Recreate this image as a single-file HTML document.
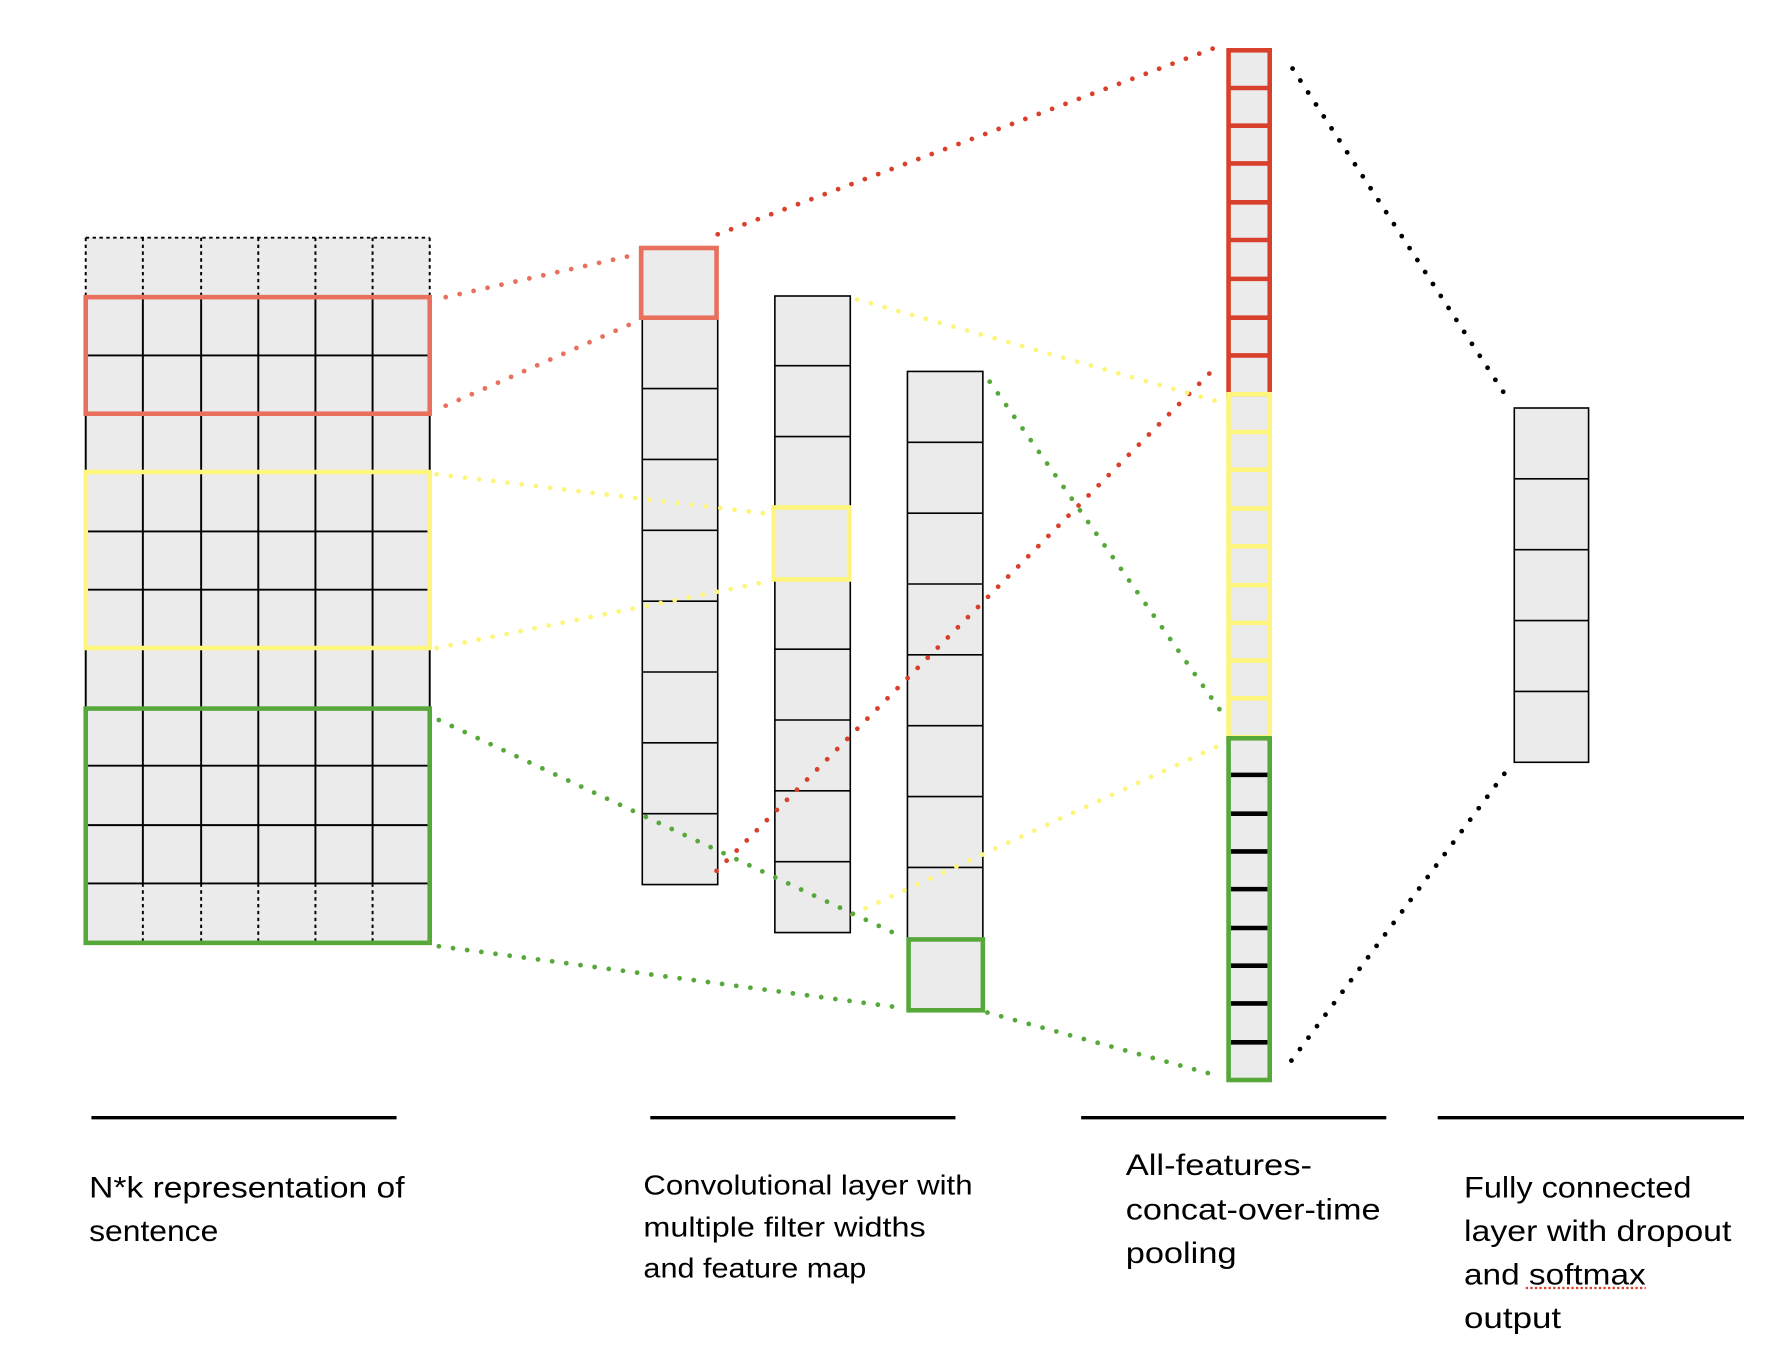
<!DOCTYPE html>
<html><head><meta charset="utf-8"><style>
html,body{margin:0;padding:0;background:#fff;}
svg{display:block;}
text{font-family:"Liberation Sans",sans-serif;fill:#000;}
</style></head><body>
<svg width="1792" height="1362" viewBox="0 0 1568 1191.75" preserveAspectRatio="none" xmlns="http://www.w3.org/2000/svg">
<rect x="75" y="208" width="301" height="617" fill="#ebebeb"/>
<g stroke="#000" stroke-width="1.7" fill="none">
<line x1="75" y1="208" x2="376" y2="208" stroke-dasharray="3,3"/>
<g stroke-dasharray="3,3">
<line x1="75" y1="208" x2="75" y2="260"/><line x1="125" y1="208" x2="125" y2="260"/><line x1="176" y1="208" x2="176" y2="260"/><line x1="226" y1="208" x2="226" y2="260"/><line x1="276" y1="208" x2="276" y2="260"/><line x1="326" y1="208" x2="326" y2="260"/><line x1="376" y1="208" x2="376" y2="260"/>
<line x1="125" y1="773" x2="125" y2="825"/><line x1="176" y1="773" x2="176" y2="825"/><line x1="226" y1="773" x2="226" y2="825"/><line x1="276" y1="773" x2="276" y2="825"/><line x1="326" y1="773" x2="326" y2="825"/>
</g>
<line x1="75" y1="260" x2="75" y2="825"/><line x1="376" y1="260" x2="376" y2="825"/>
<line x1="125" y1="260" x2="125" y2="773"/><line x1="176" y1="260" x2="176" y2="773"/><line x1="226" y1="260" x2="226" y2="773"/><line x1="276" y1="260" x2="276" y2="773"/><line x1="326" y1="260" x2="326" y2="773"/>
<line x1="75" y1="311" x2="376" y2="311"/><line x1="75" y1="362" x2="376" y2="362"/><line x1="75" y1="413" x2="376" y2="413"/><line x1="75" y1="465" x2="376" y2="465"/><line x1="75" y1="516" x2="376" y2="516"/><line x1="75" y1="567" x2="376" y2="567"/><line x1="75" y1="619" x2="376" y2="619"/><line x1="75" y1="670" x2="376" y2="670"/><line x1="75" y1="722" x2="376" y2="722"/><line x1="75" y1="773" x2="376" y2="773"/>
</g>
<rect x="75" y="260" width="301" height="102" fill="none" stroke="#e8705c" stroke-width="4"/>
<rect x="75" y="413" width="301" height="154" fill="none" stroke="#fdf57c" stroke-width="4"/>
<rect x="75" y="620" width="301" height="205" fill="none" stroke="#56a83b" stroke-width="4"/>

<g stroke="#000" stroke-width="1.4" fill="#ebebeb">
<rect x="562" y="216" width="66" height="558"/>
<rect x="678" y="259" width="66" height="557"/>
<rect x="794" y="325" width="66" height="559"/>
<rect x="1325" y="357" width="65" height="310"/>
</g>
<g stroke="#000" stroke-width="1.4">
<line x1="562" x2="628" y1="340" y2="340"/><line x1="562" x2="628" y1="402" y2="402"/><line x1="562" x2="628" y1="464" y2="464"/><line x1="562" x2="628" y1="526" y2="526"/><line x1="562" x2="628" y1="588" y2="588"/><line x1="562" x2="628" y1="650" y2="650"/><line x1="562" x2="628" y1="712" y2="712"/>
<line x1="678" x2="744" y1="320" y2="320"/><line x1="678" x2="744" y1="382" y2="382"/><line x1="678" x2="744" y1="568" y2="568"/><line x1="678" x2="744" y1="630" y2="630"/><line x1="678" x2="744" y1="692" y2="692"/><line x1="678" x2="744" y1="754" y2="754"/>
<line x1="794" x2="860" y1="387" y2="387"/><line x1="794" x2="860" y1="449" y2="449"/><line x1="794" x2="860" y1="511" y2="511"/><line x1="794" x2="860" y1="573" y2="573"/><line x1="794" x2="860" y1="635" y2="635"/><line x1="794" x2="860" y1="697" y2="697"/><line x1="794" x2="860" y1="759" y2="759"/>
<line x1="1325" x2="1390" y1="419" y2="419"/><line x1="1325" x2="1390" y1="481" y2="481"/><line x1="1325" x2="1390" y1="543" y2="543"/><line x1="1325" x2="1390" y1="605" y2="605"/>
</g>
<rect x="561" y="217" width="66" height="61" fill="none" stroke="#e8705c" stroke-width="4"/>
<rect x="677" y="444" width="66" height="63" fill="none" stroke="#fdf57c" stroke-width="4"/>
<rect x="795" y="822" width="65" height="62" fill="none" stroke="#56a83b" stroke-width="4"/>

<rect x="1073" y="42" width="40" height="904" fill="#ebebeb"/>
<g stroke="#d9402b" stroke-width="4">
<line x1="1075" x2="1111" y1="77" y2="77"/><line x1="1075" x2="1111" y1="110" y2="110"/><line x1="1075" x2="1111" y1="143" y2="143"/><line x1="1075" x2="1111" y1="177" y2="177"/><line x1="1075" x2="1111" y1="210" y2="210"/><line x1="1075" x2="1111" y1="244" y2="244"/><line x1="1075" x2="1111" y1="278" y2="278"/><line x1="1075" x2="1111" y1="311" y2="311"/>
</g>
<rect x="1075" y="44" width="36" height="301" fill="none" stroke="#d9402b" stroke-width="4"/>
<g stroke="#fdf57c" stroke-width="4">
<line x1="1075" x2="1111" y1="378" y2="378"/><line x1="1075" x2="1111" y1="411" y2="411"/><line x1="1075" x2="1111" y1="445" y2="445"/><line x1="1075" x2="1111" y1="478" y2="478"/><line x1="1075" x2="1111" y1="512" y2="512"/><line x1="1075" x2="1111" y1="545" y2="545"/><line x1="1075" x2="1111" y1="578" y2="578"/><line x1="1075" x2="1111" y1="611" y2="611"/>
</g>
<rect x="1075" y="345" width="36" height="300" fill="none" stroke="#fdf57c" stroke-width="4"/>
<g stroke="#000" stroke-width="4">
<line x1="1077" x2="1109" y1="678" y2="678"/><line x1="1077" x2="1109" y1="712" y2="712"/><line x1="1077" x2="1109" y1="745" y2="745"/><line x1="1077" x2="1109" y1="778" y2="778"/><line x1="1077" x2="1109" y1="812" y2="812"/><line x1="1077" x2="1109" y1="845" y2="845"/><line x1="1077" x2="1109" y1="878" y2="878"/><line x1="1077" x2="1109" y1="912" y2="912"/>
</g>
<rect x="1075" y="646" width="36" height="299" fill="none" stroke="#56a83b" stroke-width="4"/>

<g fill="none" stroke-width="4.2" stroke-linecap="round" stroke-dasharray="0,12.5">
<line x1="390" y1="260" x2="560" y2="222" stroke="#e8705c"/>
<line x1="390" y1="355" x2="560" y2="280" stroke="#e8705c"/>
<line x1="628" y1="205" x2="1068" y2="40" stroke="#d9402b"/>
<line x1="627" y1="762" x2="1060" y2="325" stroke="#d9402b"/>
<line x1="382" y1="415" x2="676" y2="450" stroke="#fdf57c"/>
<line x1="382" y1="567" x2="676" y2="508" stroke="#fdf57c"/>
<line x1="750" y1="262" x2="1068" y2="352" stroke="#fdf57c"/>
<line x1="746" y1="800" x2="1072" y2="650" stroke="#fdf57c"/>
<line x1="384" y1="630" x2="790" y2="820" stroke="#56a83b"/>
<line x1="384" y1="828" x2="790" y2="882" stroke="#56a83b"/>
<line x1="866" y1="334" x2="1068" y2="622" stroke="#56a83b"/>
<line x1="864" y1="886" x2="1068" y2="942" stroke="#56a83b"/>
<line x1="1131" y1="60" x2="1320" y2="350" stroke="#000"/>
<line x1="1130" y1="928" x2="1323" y2="668" stroke="#000"/>
</g>

<g stroke="#000" stroke-width="3">
<line x1="80" x2="347" y1="978" y2="978"/>
<line x1="569" x2="836" y1="978" y2="978"/>
<line x1="946" x2="1213" y1="978" y2="978"/>
<line x1="1258" x2="1526" y1="978" y2="978"/>
</g>

<g font-size="26">
<text x="78" y="1048" textLength="276" lengthAdjust="spacingAndGlyphs">N*k representation of</text>
<text x="78" y="1086" textLength="113" lengthAdjust="spacingAndGlyphs">sentence</text>
</g>
<g font-size="24">
<text x="563" y="1045" textLength="288" lengthAdjust="spacingAndGlyphs">Convolutional layer with</text>
<text x="563" y="1082" textLength="247" lengthAdjust="spacingAndGlyphs">multiple filter widths</text>
<text x="563" y="1118" textLength="195" lengthAdjust="spacingAndGlyphs">and feature map</text>
</g>
<g font-size="26">
<text x="985" y="1028" textLength="163" lengthAdjust="spacingAndGlyphs">All-features-</text>
<text x="985" y="1067" textLength="223" lengthAdjust="spacingAndGlyphs">concat-over-time</text>
<text x="985" y="1105" textLength="97" lengthAdjust="spacingAndGlyphs">pooling</text>
<text x="1281" y="1048" textLength="199" lengthAdjust="spacingAndGlyphs">Fully connected</text>
<text x="1281" y="1086" textLength="234" lengthAdjust="spacingAndGlyphs">layer with dropout</text>
<text x="1281" y="1124" textLength="159" lengthAdjust="spacingAndGlyphs">and softmax</text>
<text x="1281" y="1162" textLength="85" lengthAdjust="spacingAndGlyphs">output</text>
</g>
<line x1="1335" x2="1440" y1="1127" y2="1127" stroke="#d9402b" stroke-width="2" stroke-dasharray="2,2"/>
</svg>
</body></html>
